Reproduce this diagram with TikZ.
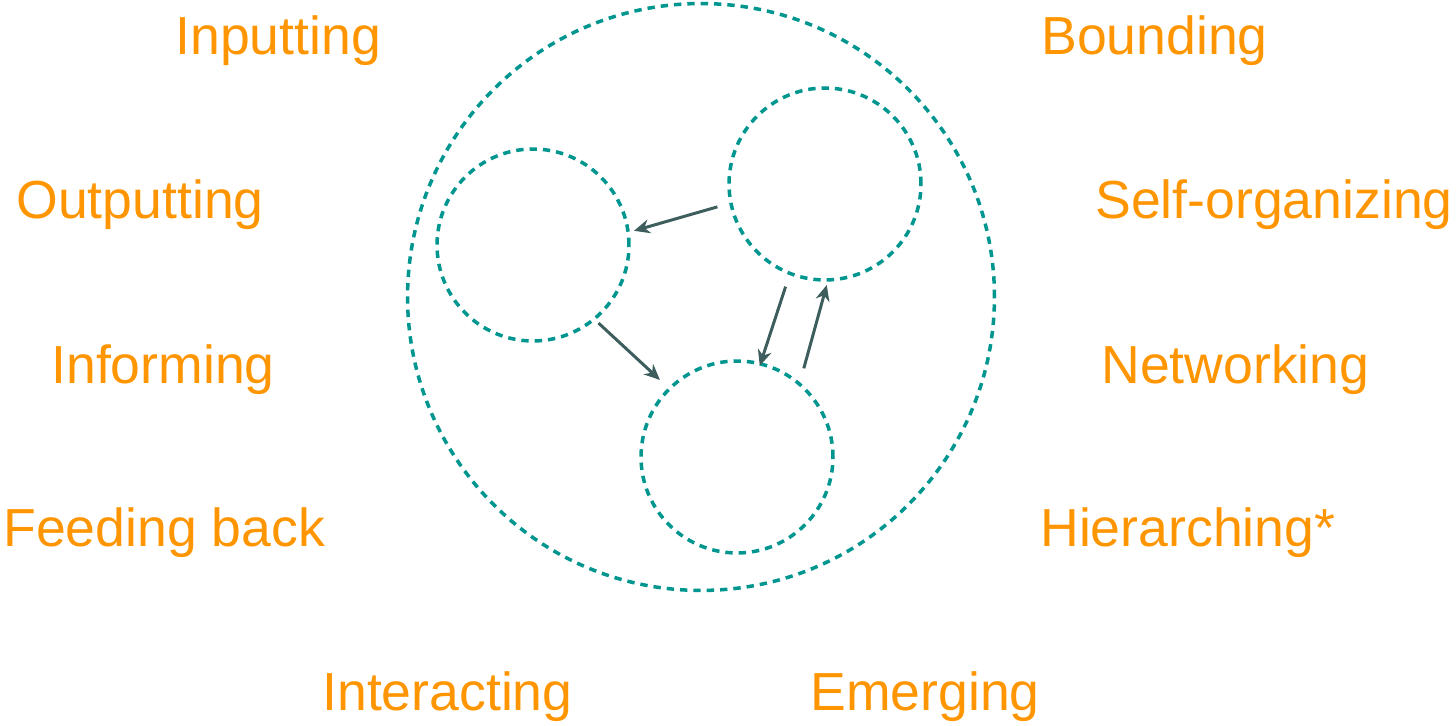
\documentclass[tikz,border=0pt]{standalone}
\usepackage{fontspec}
\setmainfont{Liberation Sans}
\usetikzlibrary{positioning,calc,arrows.meta}
\definecolor{sysorange}{RGB}{255,149,0}
\definecolor{systeal}{RGB}{0,150,143}
\definecolor{sysarrow}{RGB}{61,94,92}
\tikzset{
  bound/.style={draw=systeal, line width=2pt, dash pattern=on 4.2pt off 3.4pt},
  part/.style={circle, bound, minimum size=3.84cm, inner sep=0pt},
  flow/.style={draw=sysarrow, line width=1.7pt, -{Stealth[length=9pt,width=8pt]}},
  verb/.style={text=sysorange, font=\fontsize{30.5}{36}\selectfont, anchor=base west, inner sep=0pt}
}

\begin{document}
\begin{tikzpicture}[x=0.02cm, y=0.02cm]
			\useasboundingbox (0,0) rectangle (1456,726);
			% the system and its parts
			\node[circle, bound, minimum size=11.74cm, inner sep=0pt] (sys) at (701,429) {};
			\node[part] (partA) at (533,481) {};
			\node[part] (partB) at (825,542) {};
			\node[part] (partC) at (737,269) {};

			% interactions
			\draw[flow] ($(partB)+(192:110)$) -- ($(partA)+(8:102)$);
			\draw[flow] ($(partA)+(-50:102)$) -- ($(partC)+(135:109)$);
			\draw[flow] ($(partB)+(249:110)$) -- ($(partC)+(76:94)$);
			\draw[flow] ($(partC)+(53:111)$) -- ($(partB)+(271:101)$);

			% left column
			\node[verb] (inp) at (175,671) {Inputting};
			\node[verb] (outp) at (16,507) {Outputting};
			\node[verb] (inf) at (51,342) {Informing};
			\node[verb] (feed) at (3,179) {Feeding back};
			% right column
			\node[verb] (bnd) at (1041,671) {Bounding};
			\node[verb] (self) at (1095,507) {Self-organizing};
			\node[verb] (net) at (1101,342) {Networking};
			\node[verb] (hier) at (1040,179) {Hierarching*};
			% bottom row
			\node[verb] (inter) at (322,15) {Interacting};
			\node[verb] (emer) at (810,15) {Emerging};
\end{tikzpicture}
\end{document}
